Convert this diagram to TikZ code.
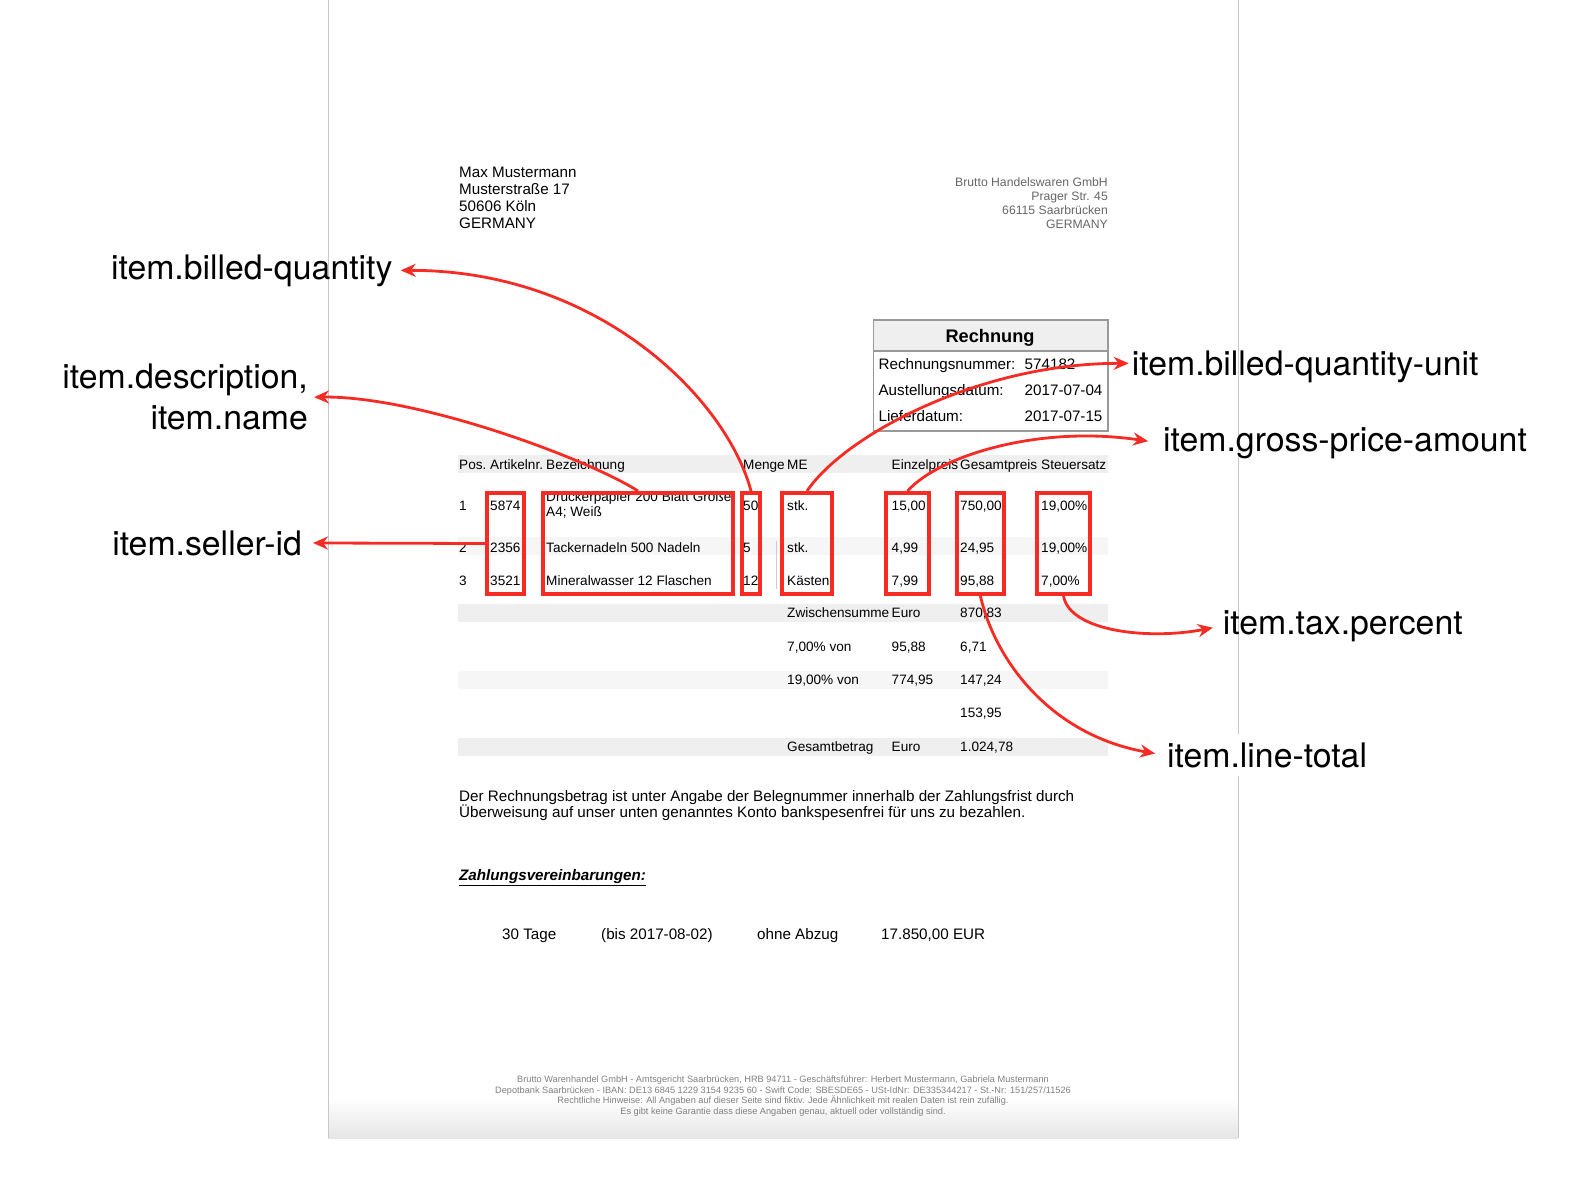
\documentclass[tikz,border=0pt]{standalone}
\usepackage{fontspec}
\setmainfont{Liberation Sans}
\newfontfamily\calloutfont{TeX Gyre Heros}
\usetikzlibrary{arrows.meta}

\definecolor{markred}{HTML}{F62B24}
\definecolor{bandgray}{HTML}{EFEFEF}
\definecolor{bandlight}{HTML}{F6F6F6}
\definecolor{pageline}{HTML}{C8C8C8}

\begin{document}
\begin{tikzpicture}[x=1pt,y=-1pt,
    addr/.style={font=\fontsize{15.2}{17}\selectfont, inner sep=0pt, anchor=base west},
    cell/.style={font=\fontsize{13.6}{15}\selectfont, inner sep=0pt, anchor=base west},
    sender/.style={font=\fontsize{12.2}{14}\selectfont, text=black!60, inner sep=0pt, anchor=base east},
    footer/.style={font=\fontsize{9.2}{11}\selectfont, text=black!50, inner sep=0pt, anchor=base},
    callout/.style={font=\calloutfont\fontsize{33.8}{41}\selectfont, inner sep=0pt},
    markbox/.style={draw=markred, line width=4pt, inner sep=0pt, minimum height=101pt},
    pointer/.style={draw=markred, line width=2.8pt, -{Stealth[length=15pt,width=13pt]}}]

        \useasboundingbox (0,0) rectangle (1574,1192);

        % Page
        \shade[top color=white, bottom color=black!10] (328,1098) rectangle (1238,1138);
        \draw[pageline, line width=1pt] (328,0) -- (328,1138);
        \draw[pageline, line width=1pt] (1238,0) -- (1238,1138);

        % Buyer and seller
        \foreach \txt [count=\i] in {Max Mustermann, Musterstraße 17, 50606 Köln, GERMANY}
            \node[addr] (buyer\i) at (459,160.4+17*\i) {\txt};
        \foreach \txt [count=\i] in {Brutto Handelswaren GmbH, Prager Str. 45, 66115 Saarbrücken, GERMANY}
            \node[sender] (seller\i) at (1108,172+14*\i) {\txt};

        % Rechnung box
        \fill[bandgray] (873.4,320) rectangle (1108,351);
        \draw[black!40, line width=1.6pt] (873.4,320) rectangle (1108,431);
        \draw[black!40, line width=1.6pt] (873.4,351) -- (1108,351);
        \node[anchor=base, inner sep=0pt, font=\bfseries\fontsize{18.2}{20}\selectfont] (title) at (990,342) {Rechnung};
        \node[addr] (invno) at (878.4,369.4) {Rechnungsnummer:};
        \node[addr] (invnoval) at (1024.5,369.4) {574182};
        \node[addr] (issued) at (878.4,395.9) {Austellungsdatum:};
        \node[addr] (issuedval) at (1024.5,395.9) {2017-07-04};
        \node[addr] (delivered) at (878.4,421.4) {Lieferdatum:};
        \node[addr] (deliveredval) at (1024.5,421.4) {2017-07-15};

        % Table bands
        \fill[bandgray] (458,455) rectangle (1108,473);
        \fill[bandlight] (458,537) rectangle (1108,555);
        \fill[bandgray] (458,604) rectangle (1108,622);
        \fill[bandlight] (458,671) rectangle (1108,689);
        \fill[bandgray] (458,738) rectangle (1108,756);
        \draw[black!20, line width=0.7pt] (776,541) -- (776,589);

        % Table head
        \foreach \txt/\x [count=\i] in {Pos./459, Artikelnr./490, Bezeichnung/546, Menge/743, ME/787, Einzelpreis/891.5, Gesamtpreis/960, Steuersatz/1041}
            \node[cell] (head\i) at (\x,469.4) {\txt};

        % Table rows
        \foreach \pos/\art/\qty/\unit/\ep/\gp/\tax/\yb in {1/5874/50/stk./{15,00}/{750,00}/{19,00\%}/510.4, 2/2356/5/stk./{4,99}/{24,95}/{19,00\%}/552.4, 3/3521/12/Kästen/{7,99}/{95,88}/{7,00\%}/585.4} {
            \node[cell] (pos\pos) at (459,\yb) {\pos};
            \node[cell] (art\pos) at (490,\yb) {\art};
            \node[cell] (qty\pos) at (743,\yb) {\qty};
            \node[cell] (unit\pos) at (787,\yb) {\unit};
            \node[cell] (ep\pos) at (891.5,\yb) {\ep};
            \node[cell] (gp\pos) at (960,\yb) {\gp};
            \node[cell] (tax\pos) at (1041,\yb) {\tax};
        }
        \node[cell] (desc1a) at (546,501.9) {Druckerpapier 200 Blatt Große};
        \node[cell] (desc1b) at (546,516.9) {A4; Weiß};
        \node[cell] (desc2) at (546,552.4) {Tackernadeln 500 Nadeln};
        \node[cell] (desc3) at (546,585.4) {Mineralwasser 12 Flaschen};

        % Totals
        \node[cell] (subtotal) at (787,617.9) {Zwischensumme};
        \node[cell] (subtotalcur) at (891.5,617.9) {Euro};
        \node[cell] (subtotalval) at (960,617.9) {870,83};
        \node[cell] (vatlow) at (787,651.9) {7,00\% von};
        \node[cell] (vatlowbase) at (891.5,651.9) {95,88};
        \node[cell] (vatlowval) at (960,651.9) {6,71};
        \node[cell] (vathigh) at (787,684.9) {19,00\% von};
        \node[cell] (vathighbase) at (891.5,684.9) {774,95};
        \node[cell] (vathighval) at (960,684.9) {147,24};
        \node[cell] (vatsum) at (960,717.9) {153,95};
        \node[cell] (grand) at (787,751.9) {Gesamtbetrag};
        \node[cell] (grandcur) at (891.5,751.9) {Euro};
        \node[cell] (grandval) at (960,751.9) {1.024,78};

        % Payment text
        \node[addr] (para1) at (459,801.4) {Der Rechnungsbetrag ist unter Angabe der Belegnummer innerhalb der Zahlungsfrist durch};
        \node[addr] (para2) at (459,817.9) {Überweisung auf unser unten genanntes Konto bankspesenfrei für uns zu bezahlen.};
        \node[addr, font=\bfseries\itshape\fontsize{15.2}{17}\selectfont] (terms) at (459,880.4) {\underline{Zahlungsvereinbarungen:}};
        \node[addr] (days) at (502,939.9) {30 Tage};
        \node[addr] (until) at (601,939.9) {(bis 2017-08-02)};
        \node[addr] (discount) at (757,939.9) {ohne Abzug};
        \node[addr] (amount) at (881,939.9) {17.850,00 EUR};

        % Footer
        \node[footer] (foot1) at (783,1082.4) {Brutto Warenhandel GmbH - Amtsgericht Saarbrücken, HRB 94711 - Geschäftsführer: Herbert Mustermann, Gabriela Mustermann};
        \node[footer] (foot2) at (783,1093.4) {Depotbank Saarbrücken - IBAN: DE13 6845 1229 3154 9235 60 - Swift Code: SBESDE65 - USt-IdNr: DE335344217 - St.-Nr: 151/257/11526};
        \node[footer] (foot3) at (783,1103.4) {Rechtliche Hinweise: All Angaben auf dieser Seite sind fiktiv. Jede Ähnlichkeit mit realen Daten ist rein zufällig.};
        \node[footer] (foot4) at (783,1114.4) {Es gibt keine Garantie dass diese Angaben genau, aktuell oder vollständig sind.};

        % Marked columns
        \node[markbox, minimum width=37.3pt] (artbox) at (505.4,543.5) {};
        \node[markbox, minimum width=190pt] (descbox) at (638,543.5) {};
        \node[markbox, minimum width=18pt] (qtybox) at (751,543.5) {};
        \node[markbox, minimum width=50pt] (unitbox) at (807,543.5) {};
        \node[markbox, minimum width=42.2pt] (epbox) at (907.5,543.5) {};
        \node[markbox, minimum width=47.3pt] (gpbox) at (980.4,543.5) {};
        \node[markbox, minimum width=53pt] (taxbox) at (1063.5,543.5) {};

        % Callouts
        \node[callout, anchor=base east] (billedqty) at (392.7,279) {item.billed-quantity};
        \node[callout, anchor=east, align=right] (descname) at (308,397.2) {item.description,\\item.name};
        \node[callout, anchor=base east] (sellerid) at (302,555) {item.seller-id};
        \node[callout, anchor=base west] (billedunit) at (1131.7,375) {item.billed-quantity-unit};
        \node[callout, anchor=base west] (grossprice) at (1163,451.7) {item.gross-price-amount};
        \node[callout, anchor=base west] (taxpercent) at (1222.7,634) {item.tax.percent};
        \node[callout, anchor=base west, fill=white, inner xsep=4pt, inner ysep=8pt] (linetotal) at (1163,767) {item.line-total};

        % Pointers
        \draw[pointer, shorten >=8pt] (qtybox.north) .. controls (727,400) and (600,270) .. (billedqty.east);
        \draw[pointer, shorten >=6pt] (descbox.north) .. controls (590,460) and (420,396) .. (descname.east);
        \draw[pointer, shorten >=11pt] (artbox.west) -- (sellerid.east);
        \draw[pointer, shorten >=3pt] (unitbox.north) .. controls (845,435) and (980,363) .. ([yshift=3pt]billedunit.west);
        \draw[pointer, shorten >=15pt] (epbox.north) .. controls (940,455) and (1040,425) .. (grossprice.west);
        \draw[pointer, shorten >=10pt] (taxbox.south) .. controls (1070,632) and (1150,640) .. (taxpercent.west);
        \draw[pointer, shorten >=8pt] (gpbox.south) .. controls (995,660) and (1050,735) .. (linetotal.west);

\end{tikzpicture}
\end{document}
